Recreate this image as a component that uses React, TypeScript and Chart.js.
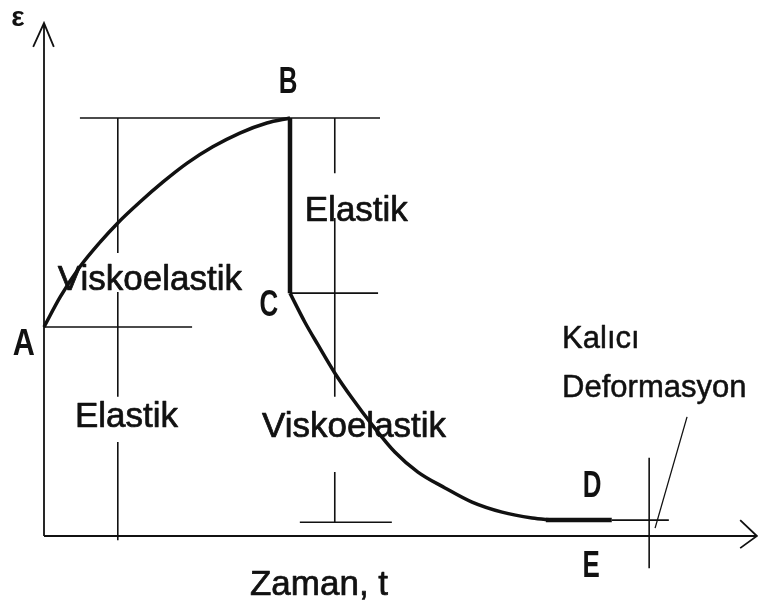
import React, { useEffect, useRef } from "react";
import { Chart, registerables } from "chart.js";

Chart.register(...registerables);

// Time (t) and strain (ε) in arbitrary units for a creep–recovery diagram.
// null entries break a polyline into separate pieces.

// Loading: instantaneous elastic strain at A, then viscoelastic creep up to B
const creepTime = [0, 0.33, 0.73, 1.14, 1.5, 1.95, 2.42, 2.91, 3.43, 3.98, 4.53, 5.0];
const creepStrain = [5.0, 5.72, 6.44, 7.03, 7.49, 7.99, 8.47, 8.92, 9.31, 9.64, 9.88, 10.0];

// Unloading: instantaneous elastic recovery B -> C
const elasticDropTime = [5.0, 5.0];
const elasticDropStrain = [10.0, 5.81];

// Delayed viscoelastic recovery C -> D
const recoveryTime = [5.0, 5.3, 5.57, 5.91, 6.26, 6.67, 7.13, 7.6, 8.15, 8.7, 9.31, 9.92, 10.33];
const recoveryStrain = [5.81, 5.12, 4.57, 3.9, 3.3, 2.66, 2.01, 1.53, 1.15, 0.81, 0.57, 0.43, 0.38];

// Permanent deformation plateau at D
const plateauTime = [10.2, 11.54];
const plateauStrain = [0.38, 0.38];

// Dimension / reference lines
const guideTime = [
  0, 3.01, null,
  0.73, 6.83, null,
  5.0, 6.79, null,
  5.2, 7.07, null,
  11.54, 12.7, null,
  1.5, 1.5, null,
  1.5, 1.5, null,
  1.5, 1.5, null,
  5.91, 5.91, null,
  5.91, 5.91, null,
  5.91, 5.91, null,
  12.3, 12.3,
];
const guideStrain = [
  5.0, 5.0, null,
  10.0, 10.0, null,
  5.81, 5.81, null,
  0.33, 0.33, null,
  0.38, 0.38, null,
  10.0, 6.77, null,
  5.84, 3.33, null,
  2.25, -0.1, null,
  10.0, 8.68, null,
  7.61, 3.33, null,
  1.53, 0.33, null,
  1.87, -0.77,
];

// Leader line pointing at the permanent deformation
const leaderTime = [13.07, 12.42];
const leaderStrain = [2.85, 0.19];

// Coordinate axes with arrow heads
const axisTime = [
  0, 0, null,
  -0.22, 0, 0.2, null,
  0, 14.49, null,
  14.15, 14.49, 14.15,
];
const axisStrain = [
  0, 12.27, null,
  11.7, 12.27, 11.7, null,
  0, 0, null,
  0.38, 0, -0.29,
];

const regionLabels = ["Viskoelastik", "Elastik", "Elastik", "Viskoelastik", "Kalıcı", "Deformasyon"];
const pointLabels = ["A", "B", "C", "D", "E"];
const xAxisTitle = "Zaman, t";
const yAxisTitle = "ε";

const T_MIN = -0.8943;
const T_MAX = 14.5122;
const E_MIN = -1.6746;
const E_MAX = 12.823;

const INK = "#111111";

const toPoints = (xs: (number | null)[], ys: (number | null)[]) =>
  xs.map((x, i) => ({ x, y: ys[i] }));

// text drawn with a light outline so it has the weight of printed type
function inkText(ctx: CanvasRenderingContext2D, s: string, x: number, y: number, w = 0.7) {
  ctx.fillText(s, x, y);
  ctx.lineWidth = w;
  ctx.strokeText(s, x, y);
}

const annotationPlugin = {
  id: "diagramText",
  beforeDatasetsDraw(chart: any) {
    const { ctx, scales } = chart;
    const sx = (v: number) => scales.x.getPixelForValue(v);
    const sy = (v: number) => scales.y.getPixelForValue(v);
    ctx.save();
    ctx.fillStyle = INK;
    ctx.strokeStyle = INK;
    ctx.lineJoin = "round";
    ctx.textBaseline = "alphabetic";

    // region names
    ctx.textAlign = "left";
    ctx.font = "35px 'Liberation Sans', Arial, sans-serif";
    const regionPos: [number, number][] = [
      [0.28, 5.89],
      [5.3, 7.54],
      [0.63, 2.61],
      [4.43, 2.37],
    ];
    regionPos.forEach(([t, e], i) => inkText(ctx, regionLabels[i], sx(t), sy(e)));

    ctx.font = "31px 'Liberation Sans', Arial, sans-serif";
    inkText(ctx, regionLabels[4], sx(10.53), sy(4.5), 0.5);
    inkText(ctx, regionLabels[5], sx(10.53), sy(3.33), 0.5);

    // axis titles
    ctx.textAlign = "center";
    ctx.font = "35px 'Liberation Sans', Arial, sans-serif";
    inkText(ctx, xAxisTitle, sx(5.59), sy(-1.41));

    ctx.font = "bold 28px 'Liberation Sans', Arial, sans-serif";
    ctx.fillText(yAxisTitle, sx(-0.53), sy(12.2));

    // point letters, narrow
    const letterPos: [number, number, number][] = [
      [-0.41, 4.33, 0.85],
      [4.96, 10.6, 0.72],
      [4.57, 5.26, 0.72],
      [11.14, 0.93, 0.72],
      [11.12, -0.98, 0.72],
    ];
    ctx.font = "bold 36px 'Liberation Sans', Arial, sans-serif";
    letterPos.forEach(([t, e, k], i) => {
      ctx.save();
      ctx.translate(sx(t), sy(e));
      ctx.scale(k, 1);
      ctx.fillText(pointLabels[i], 0, 0);
      ctx.restore();
    });
    ctx.restore();
  },
};

export default function App() {
  const canvasRef = useRef<HTMLCanvasElement | null>(null);

  useEffect(() => {
    const canvas = canvasRef.current;
    if (!canvas) return;
    document.body.style.margin = "0";
    document.documentElement.style.overflow = "hidden";
    const base = {
      pointRadius: 0,
      borderColor: INK,
      backgroundColor: INK,
      fill: false,
      spanGaps: false,
      clip: false as any,
      borderCapStyle: "butt" as const,
      borderJoinStyle: "miter" as const,
    };
    const chart = new Chart(canvas, {
      type: "line",
      data: {
        datasets: [
          {
            ...base,
            data: toPoints(creepTime, creepStrain),
            borderWidth: 3.5,
            cubicInterpolationMode: "monotone",
          },
          {
            ...base,
            data: toPoints(recoveryTime, recoveryStrain),
            borderWidth: 3.5,
            cubicInterpolationMode: "monotone",
          },
          {
            ...base,
            data: toPoints(plateauTime, plateauStrain),
            borderWidth: 4.5,
          },
          {
            ...base,
            data: toPoints(elasticDropTime, elasticDropStrain),
            borderWidth: 4.5,
          },
          {
            ...base,
            data: toPoints(guideTime, guideStrain),
            borderWidth: 1.6,
          },
          {
            ...base,
            data: toPoints(leaderTime, leaderStrain),
            borderWidth: 1.3,
          },
          {
            ...base,
            data: toPoints(axisTime, axisStrain),
            borderWidth: 1.8,
          },
        ] as any,
      },
      options: {
        animation: false,
        responsive: false,
        maintainAspectRatio: false,
        devicePixelRatio: 1,
        events: [],
        layout: { padding: 0 },
        plugins: {
          legend: { display: false },
          tooltip: { enabled: false },
        },
        scales: {
          x: { type: "linear", min: T_MIN, max: T_MAX, display: false },
          y: { type: "linear", min: E_MIN, max: E_MAX, display: false },
        },
      },
      plugins: [annotationPlugin],
    });
    return () => chart.destroy();
  }, []);

  return (
    <div style={{ width: 758, height: 606, background: "#fff" }}>
      <canvas ref={canvasRef} width={758} height={606} style={{ display: "block" }} />
    </div>
  );
}
